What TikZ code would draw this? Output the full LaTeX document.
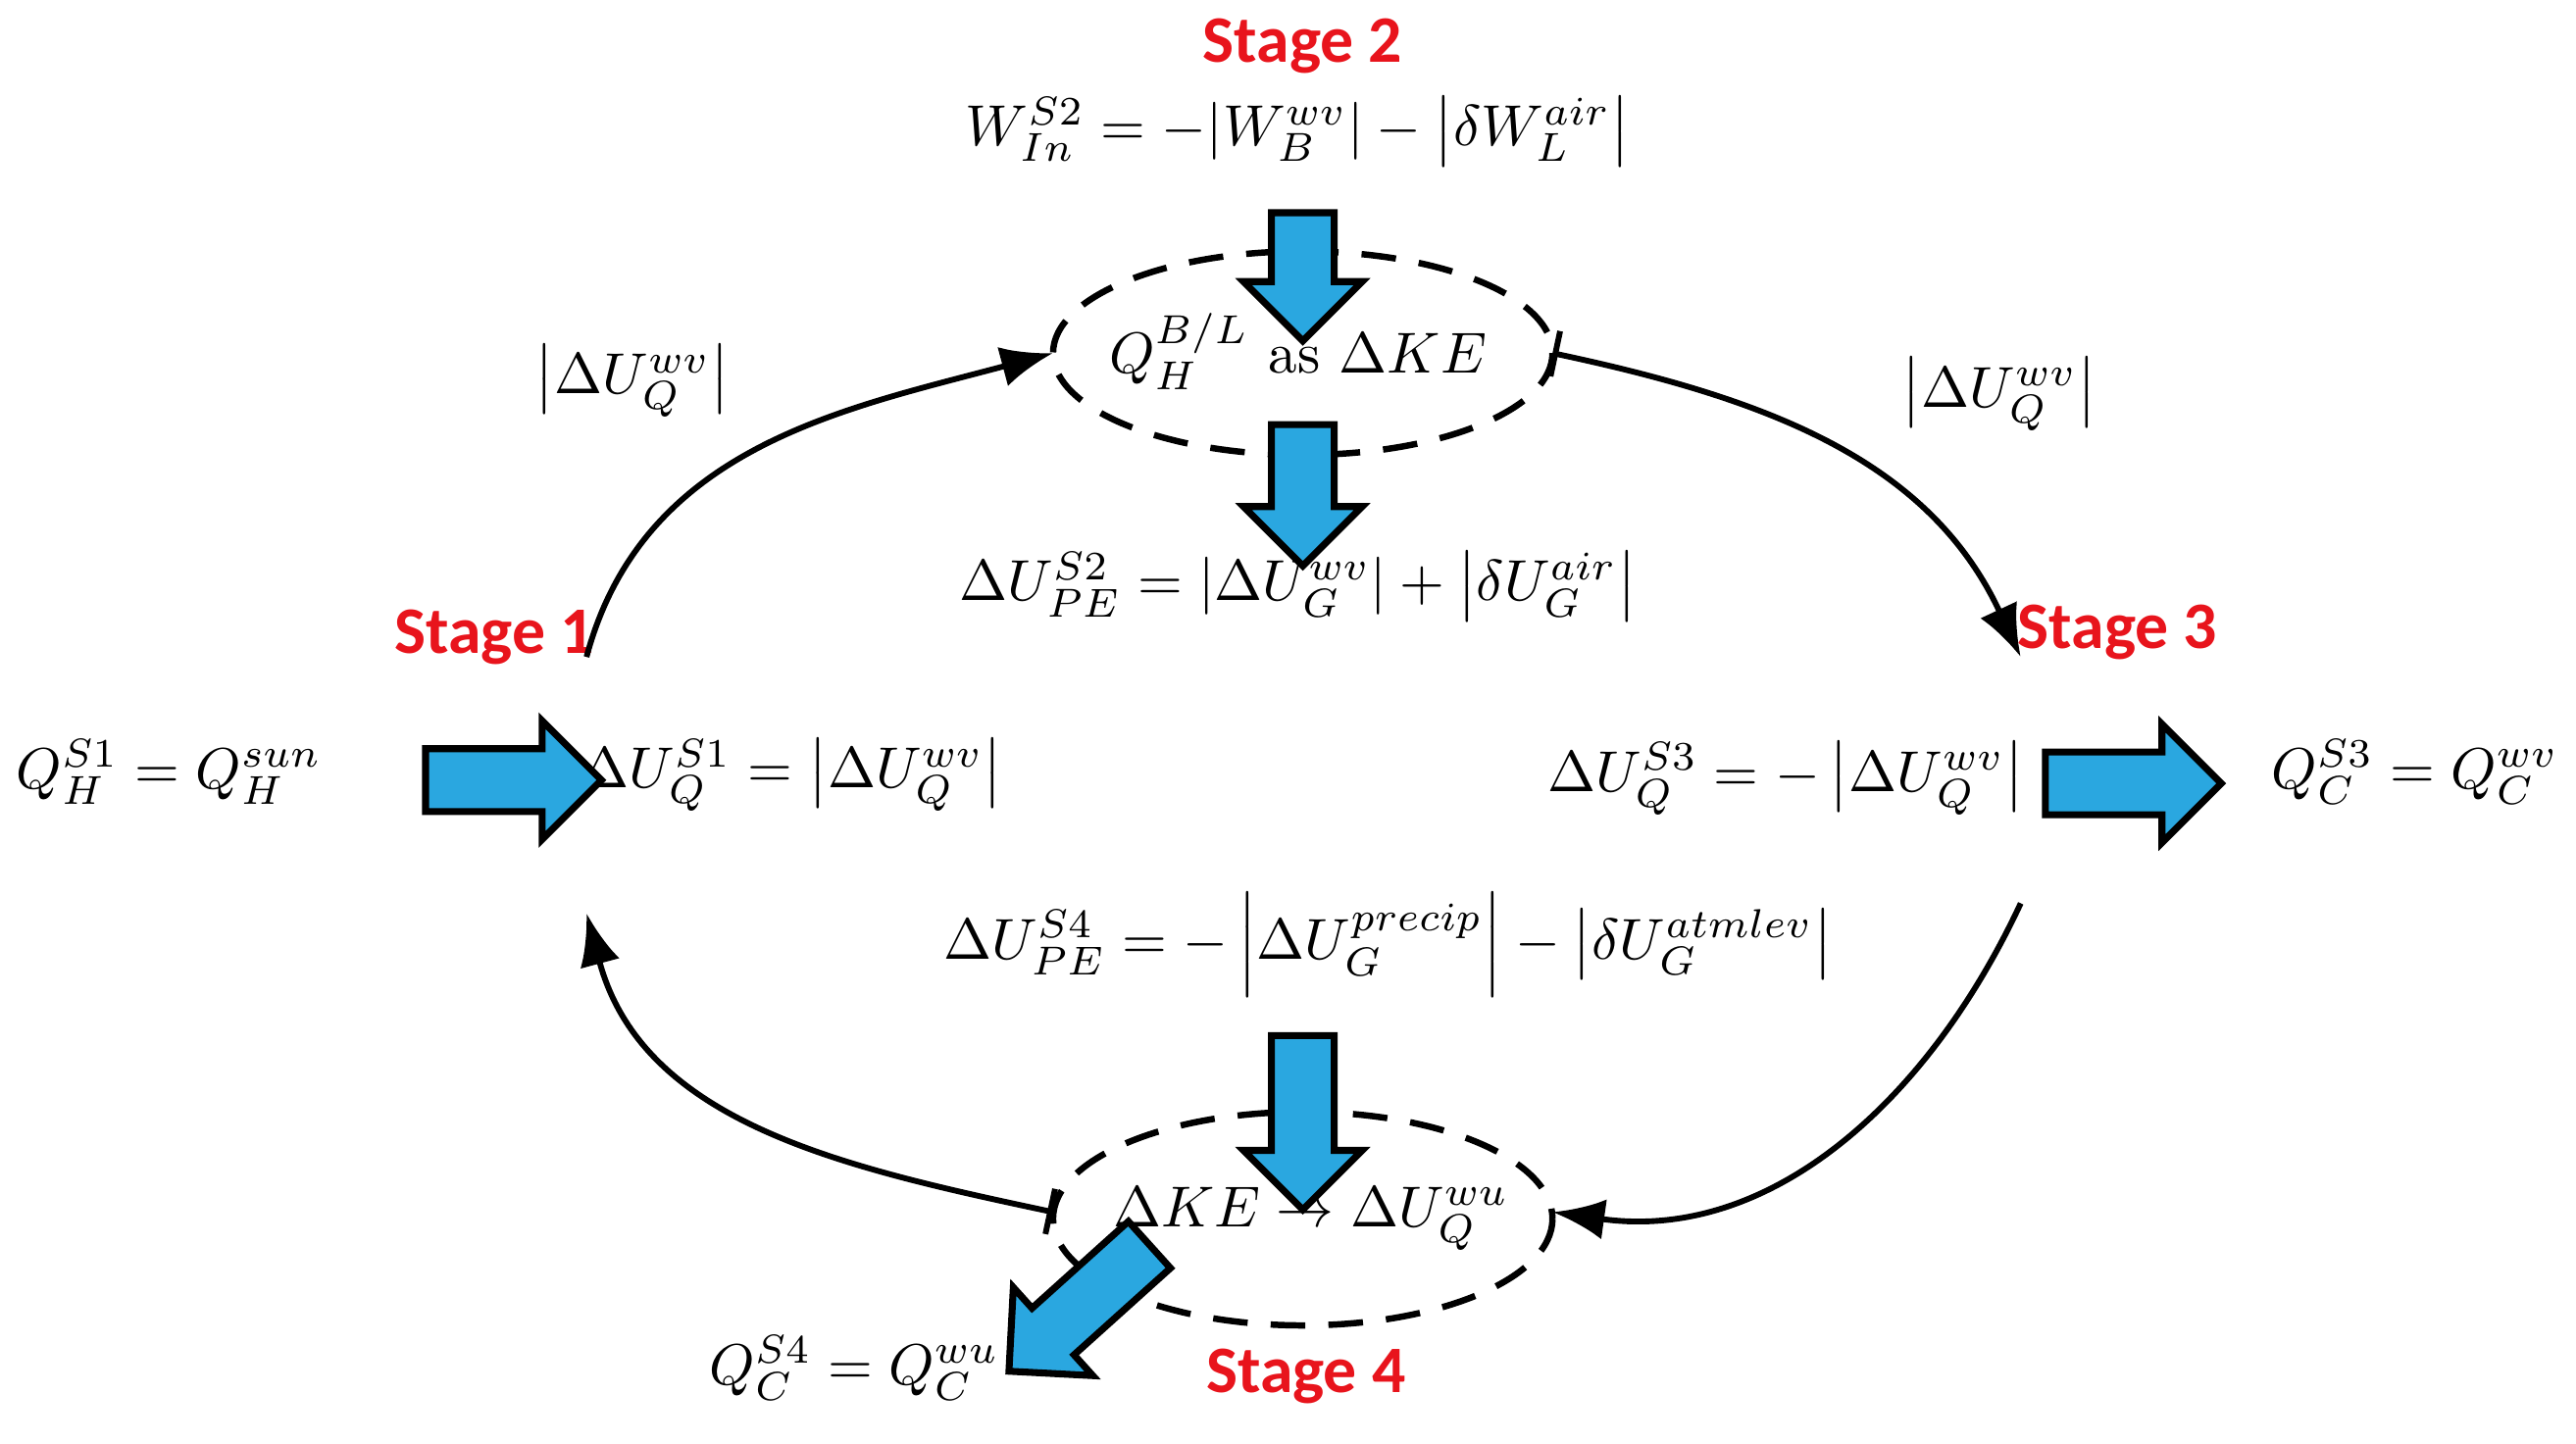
\documentclass[tikz,border=0pt]{standalone}
\usepackage{fontspec}
\newfontfamily\stagefont{Carlito}
\usetikzlibrary{arrows.meta,shapes.arrows}
\definecolor{stagered}{HTML}{E8141C}
\definecolor{flowblue}{HTML}{2AA7E0}
\begin{document}
\begin{tikzpicture}[x=0.01cm,y=-0.01cm,
  stagelbl/.style={text=stagered,font=\stagefont\bfseries\fontsize{11.5}{14}\selectfont},
  eq/.style={font=\fontsize{10}{12}\selectfont},
  bigarrow/.style={single arrow,draw=black,line width=1.2pt,fill=flowblue,inner sep=0.17cm,single arrow head extend=0.17cm,single arrow tip angle=90,minimum height=#1,anchor=center},
  cyc/.style={line width=1pt,-{Latex[length=9pt,width=7pt]}},
  ell/.style={draw,dashed,line width=1.1pt,dash pattern=on 6pt off 4pt}]
\useasboundingbox (0,0) rectangle (1568,879);
% ellipses
\draw[ell] (793,215) ellipse [x radius=152, y radius=62];
\draw[ell] (793,742) ellipse [x radius=152, y radius=65];
\coordinate (eTL) at (641,215);
\coordinate (eTR) at (945,215);
\coordinate (eBL) at (641,738);
\coordinate (eBR) at (945,738);
\coordinate (s1) at (357,400);
\coordinate (s3) at (1230,400);
\coordinate (b3) at (1230,550);
\coordinate (b1) at (357,556);
% texts
\node[stagelbl] (st2) at (793,28) {Stage 2};
\node[stagelbl] (st1) at (301,388) {Stage 1};
\node[stagelbl] (st3) at (1289,385) {Stage 3};
\node[stagelbl] (st4) at (795,838) {Stage 4};
\node[eq] (w2) at (790,80) {$W_{In}^{S2}=-|W_B^{wv}|-\left|\delta W_L^{air}\right|$};
\node[eq] (qbl) at (790,214) {$Q_H^{B/L}$ as $\Delta KE$};
\node[eq] (u2) at (790,357) {$\Delta U_{PE}^{S2}=|\Delta U_G^{wv}|+\left|\delta U_G^{air}\right|$};
\node[eq] (lq) at (385,232) {$\left|\Delta U_Q^{wv}\right|$};
\node[eq] (rq) at (1217,240) {$\left|\Delta U_Q^{wv}\right|$};
\node[eq] (q1) at (103,470) {$Q_H^{S1}=Q_H^{sun}$};
\node[eq] (u1) at (482,472) {$\Delta U_Q^{S1}=\left|\Delta U_Q^{wv}\right|$};
\node[eq] (u3) at (1087,474) {$\Delta U_Q^{S3}=-\left|\Delta U_Q^{wv}\right|$};
\node[eq] (q3) at (1470,470) {$Q_C^{S3}=Q_C^{wv}$};
\node[eq] (u4) at (845,575) {$\Delta U_{PE}^{S4}=-\left|\Delta U_G^{precip}\right|-\left|\delta U_G^{atmlev}\right|$};
\node[eq] (ke) at (798,742) {$\Delta KE\rightarrow\Delta U_Q^{wu}$};
\node[eq] (q4) at (520,833) {$Q_C^{S4}=Q_C^{wu}$};
% blue arrows
\node[bigarrow=0.78cm,rotate=-90] (a1) at (793,159) {};
\node[bigarrow=0.86cm,rotate=-90] (a2) at (793,292) {};
\node[bigarrow=1.06cm,rotate=-90] (a3) at (793,674) {};
\node[bigarrow=1.07cm] (a4) at (303,475) {};
\node[bigarrow=1.07cm] (a5) at (1289,477) {};
\node[bigarrow=1.15cm,rotate=-138] (a6) at (664,790) {};
% cycle arrows
\draw[cyc] (s1) to[out=75,in=195] (eTL);
\draw[cyc,{Bar[width=8pt]}-{Latex[length=9pt,width=7pt]}] (eTR) to[out=-12,in=115] (s3);
\draw[cyc] (b3) to[out=-115,in=-8] (eBR);
\draw[cyc,{Bar[width=8pt]}-{Latex[length=9pt,width=7pt]}] (eBL) to[out=168,in=-75] (b1);
\end{tikzpicture}
\end{document}
